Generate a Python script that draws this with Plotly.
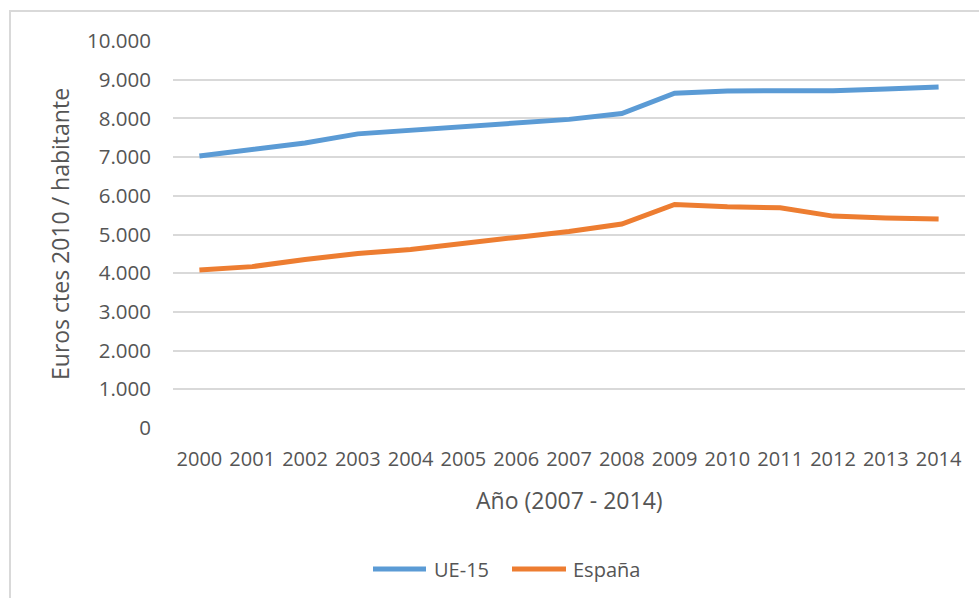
import plotly.graph_objects as go

# Gasto por habitante, euros constantes de 2010
years = [str(y) for y in range(2000, 2015)]
ue15 = [7030, 7200, 7365, 7600, 7695, 7815, 7905, 7975, 8125, 8650, 8710, 8705, 8715, 8760, 8810]
espana = [4080, 4170, 4355, 4510, 4615, 4785, 4925, 5080, 5270, 5775, 5715, 5690, 5475, 5425, 5400]
series_names = ["UE-15", "España"]
series_colors = ["#5B9BD5", "#ED7D31"]
y_ticks = list(range(0, 10001, 1000))

FONT = "Open Sans"
TEXT = "#555555"
GRID = "#D9D9D9"

fig = go.Figure()
for name, vals, color in zip(series_names, [ue15, espana], series_colors):
    fig.add_trace(go.Scatter(
        x=years, y=vals, name=name, mode="lines",
        line=dict(color=color, width=5),
        showlegend=False,
    ))

W, H = 979, 598
L, R, T, B = 173, 14, 41, 170
pw, ph = W - L - R, H - T - B


def px(x):
    return (x - L) / pw


def py(y):
    return (H - B - y) / ph


fig.update_layout(
    width=W, height=H,
    margin=dict(l=L, r=R, t=T, b=B),
    paper_bgcolor="white", plot_bgcolor="white",
    separators=",.",
    font=dict(family=FONT, color=TEXT, size=20),
    xaxis=dict(
        type="category", range=[-0.5, len(years) - 0.5],
        showgrid=False, zeroline=False, showline=False, ticks="",
        tickfont=dict(family=FONT, size=20, color=TEXT),
        ticklabelstandoff=17,
    ),
    yaxis=dict(
        range=[0, 10000], tickvals=y_ticks, tickformat=",.0f",
        showgrid=True, gridcolor=GRID, gridwidth=1.5,
        zeroline=False, showline=False, ticks="",
        tickfont=dict(family=FONT, size=20.5, color=TEXT),
        ticklabelstandoff=21,
    ),
)

# chart frame
fig.add_shape(type="rect", xref="paper", yref="paper",
              x0=px(10), x1=px(W + 20), y0=py(H + 20), y1=py(11),
              line=dict(color=GRID, width=2), layer="below")

# axis titles
fig.add_annotation(text="Euros ctes 2010 / habitante", xref="paper", yref="paper",
                   x=px(60), y=py(234), textangle=-90, showarrow=False,
                   xanchor="center", yanchor="middle",
                   font=dict(family=FONT, size=23, color=TEXT))
fig.add_annotation(text="Año (2007 - 2014)", xref="paper", yref="paper",
                   x=px(569), y=py(500), showarrow=False,
                   xanchor="center", yanchor="middle",
                   font=dict(family=FONT, size=23, color=TEXT))

# legend
legend_items = [(373, 426, 432), (512, 566, 571)]
for (x0, x1, xt), name, color in zip(legend_items, series_names, series_colors):
    fig.add_shape(type="line", xref="paper", yref="paper",
                  x0=px(x0), x1=px(x1), y0=py(569), y1=py(569),
                  line=dict(color=color, width=5))
    fig.add_annotation(text=name, xref="paper", yref="paper",
                       x=px(xt), y=py(569), showarrow=False,
                       xanchor="left", yanchor="middle",
                       font=dict(family=FONT, size=20, color=TEXT))

fig.write_html("out.html")
